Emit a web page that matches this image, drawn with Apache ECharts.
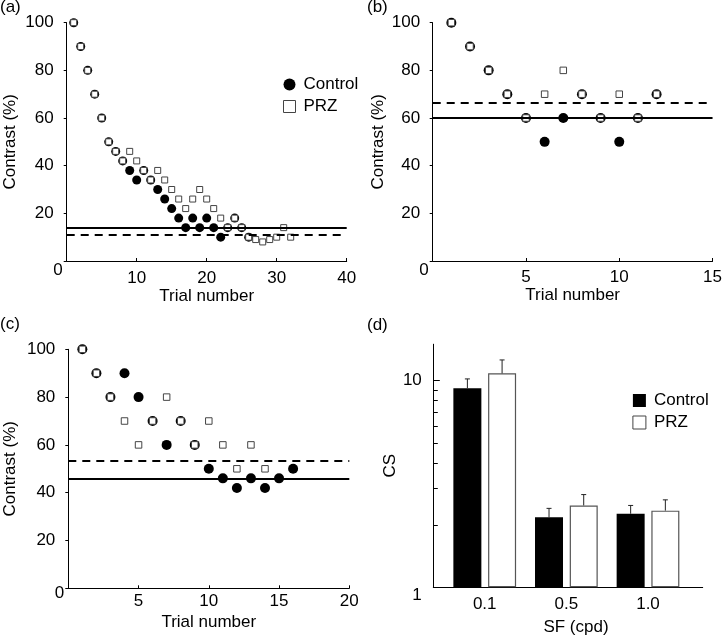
<!DOCTYPE html>
<html><head><meta charset="utf-8">
<script src="https://cdn.jsdelivr.net/npm/echarts@6/dist/echarts.min.js"></script>
<style>html,body{margin:0;padding:0;background:#fff}#c{width:725px;height:639px}</style>
</head><body><div id="c"></div>
<script>
// ---------- Panel (a) ----------
const aControlTrials = [1,2,3,4,5,6,7,8,9,10,11,12,13,14,15,16,17,18,19,20,21,22,23,24,25,26];
const aControlValues = [100,90,80,70,60,50,46,42,38,34,38,34,30,26,22,18,14,18,14,18,14,10,14,18,14,10];
const aPRZTrials = [1,2,3,4,5,6,7,8,9,10,11,12,13,14,15,16,17,18,19,20,21,22,23,24,25,26,27,28,29,30,31,32];
const aPRZValues = [100,90,80,70,60,50,46,42,46,42,38,34,38,34,30,26,22,26,30,26,22,18,14,18,14,10,9,8,9,10,14,10];
const aControlThreshold = 13.9;
const aPRZThreshold = 11.2;
const aXTicks = [10,20,30,40];

// ---------- Panel (b) ----------
const bControlTrials = [1,2,3,4,5,6,7,8,9,10,11,12];
const bControlValues = [100,90,80,70,60,50,60,70,60,50,60,70];
const bPRZTrials = [1,2,3,4,5,6,7,8,9,10,11,12];
const bPRZValues = [100,90,80,70,60,70,80,70,60,70,60,70];
const bControlThreshold = 60;
const bPRZThreshold = 66.6;
const bXTicks = [5,10,15];

// ---------- Panel (c) ----------
const cControlTrials = [1,2,3,4,5,6,7,8,9,10,11,12,13,14,15,16];
const cControlValues = [100,90,80,90,80,70,60,70,60,50,46,42,46,42,46,50];
const cPRZTrials = [1,2,3,4,5,6,7,8,9,10,11,12,13,14];
const cPRZValues = [100,90,80,70,60,70,80,70,60,70,60,50,60,50];
const cControlThreshold = 46;
const cPRZThreshold = 53.4;
const cXTicks = [5,10,15,20];

const yTicks = [20,40,60,80,100];

// ---------- Panel (d) ----------
const dCategories = ['0.1','0.5','1.0'];
const dControlMean = [9.2, 2.18, 2.27];
const dControlErr  = [1.0, 0.23, 0.22];
const dPRZMean = [10.85, 2.49, 2.35];
const dPRZErr  = [1.75, 0.32, 0.30];
const dMajorTicks = [10];
const dMinorTicks = [2,3,4,5,6,7,8,9];

const FONT = 'Liberation Sans, Arial, Helvetica, sans-serif';
const txt = {color:'#000', fontSize:17, fontFamily:FONT};

function pairs(xs, ys){ return xs.map((x,i)=>[x, ys[i]]); }

function trialX(gridIndex, max, ticks, margin){
  return {type:'value', gridIndex, min:0, max, interval: max===40?10:5,
    axisLine:{show:true, onZero:false, lineStyle:{color:'#000', width:1}},
    axisTick:{show:true, inside:true, length:3, lineStyle:{color:'#000'}},
    splitLine:{show:false},
    axisLabel:Object.assign({customValues:ticks, margin}, txt),
    name:'Trial number', nameLocation:'middle', nameGap:26, nameTextStyle:txt};
}
function contrastY(gridIndex, nameGap, margin){
  return {type:'value', gridIndex, min:0, max:100, interval:20, position:'left',
    axisLine:{show:true, onZero:false, lineStyle:{color:'#000', width:1}},
    axisTick:{show:true, length:3, lineStyle:{color:'#000'}},
    splitLine:{show:false},
    axisLabel:Object.assign({customValues:yTicks, margin}, txt),
    name:'Contrast (%)', nameLocation:'middle', nameGap, nameTextStyle:txt};
}
function zeroY(gridIndex, shift){
  return {type:'value', gridIndex, min:0, max:100, interval:20, position:'left',
    axisLine:{show:false, onZero:false}, axisTick:{show:false}, splitLine:{show:false},
    axisLabel:{customValues:[0], margin:4, formatter:(v)=>'{z|' + v + '}',
      rich:{z:Object.assign({padding:[shift,0,0,0]}, txt)}}};
}
function ctrlSeries(xi, yi, trials, vals, size, thr){
  return {type:'scatter', name:'Control', xAxisIndex:xi, yAxisIndex:yi,
    symbol:'circle', symbolSize:size, itemStyle:{color:'#000', opacity:1},
    data:pairs(trials, vals), silent:true,
    markLine:{silent:true, symbol:'none', label:{show:false}, z:5,
      lineStyle:{color:'#000', width:2, type:'solid', opacity:1}, data:[{yAxis:thr}]}};
}
function przSeries(xi, yi, trials, vals, size, thr){
  return {type:'scatter', name:'PRZ', xAxisIndex:xi, yAxisIndex:yi,
    symbol:'rect', symbolSize:size, itemStyle:{color:'#fff', borderColor:'#444', borderWidth:1, opacity:1},
    data:pairs(trials, vals), silent:true,
    markLine:{silent:true, symbol:'none', label:{show:false}, z:5,
      lineStyle:{color:'#000', width:2, type:[8,6], opacity:1}, data:[{yAxis:thr}]}};
}
function errSeries(mean, err, offset){
  return {type:'custom', xAxisIndex:3, yAxisIndex:6, silent:true, z:4,
    encode:{x:0, y:[1,2]},
    data: mean.map((m,i)=>[i, m, m+err[i]]),
    renderItem:(params, api)=>{
      const p0 = api.coord([api.value(0), api.value(1)]);
      const p1 = api.coord([api.value(0), api.value(2)]);
      const cx = p0[0] + offset;
      return {type:'group', children:[
        {type:'line', shape:{x1:cx, y1:p0[1], x2:cx, y2:p1[1]}, style:{stroke:'#222', lineWidth:1}},
        {type:'line', shape:{x1:cx-2.5, y1:p1[1], x2:cx+2.5, y2:p1[1]}, style:{stroke:'#222', lineWidth:1}}
      ]};
    }};
}

const option = {
  animation:false,
  backgroundColor:'#fff',
  title:[
    {text:'(a)', left:0, top:-1, padding:0, textStyle:Object.assign({fontWeight:'normal'}, txt)},
    {text:'(b)', left:367, top:-1, padding:0, textStyle:Object.assign({fontWeight:'normal'}, txt)},
    {text:'(c)', left:0, top:316, padding:0, textStyle:Object.assign({fontWeight:'normal'}, txt)},
    {text:'(d)', left:367, top:317, padding:0, textStyle:Object.assign({fontWeight:'normal'}, txt)}
  ],
  grid:[
    {left:66.7, top:22.7, width:280, height:238.3},
    {left:432.7, top:22.7, width:280.6, height:238.3},
    {left:68.3, top:349.3, width:281, height:239},
    {left:433.3, top:344.3, width:269.4, height:243}
  ],
  legend:[
    {orient:'vertical', left:283, top:76, padding:0, itemWidth:12, itemHeight:12, itemGap:5, selectedMode:false,
     textStyle:Object.assign({padding:[0,0,0,3]}, txt),
     data:[{name:'Control', icon:'circle', itemStyle:{color:'#000', borderWidth:0, opacity:1}},
           {name:'PRZ', icon:'rect', itemStyle:{color:'#fff', borderColor:'#444', borderWidth:1, opacity:1}}]},
    {orient:'vertical', left:632.4, top:392, padding:0, itemWidth:13, itemHeight:13, itemGap:5, selectedMode:false,
     textStyle:Object.assign({padding:[0,0,0,3]}, txt),
     data:[{name:'Control', icon:'rect', itemStyle:{color:'#000', borderWidth:0, opacity:1}},
           {name:'PRZ', icon:'rect', itemStyle:{color:'#fff', borderColor:'#444', borderWidth:1, opacity:1}}]}
  ],
  xAxis:[
    trialX(0, 40, aXTicks, 9),
    trialX(1, 15, bXTicks, 8),
    trialX(2, 20, cXTicks, 5),
    {type:'value', gridIndex:3, min:-0.63, max:2.67,
     axisLine:{show:true, onZero:false, lineStyle:{color:'#000', width:1}},
     axisTick:{show:false}, splitLine:{show:false},
     axisLabel:Object.assign({customValues:[0,1,2], margin:9, formatter:(v)=>dCategories[Math.round(v)]}, txt),
     name:'SF (cpd)', nameLocation:'middle', nameGap:32, nameTextStyle:Object.assign({padding:[0,0,0,16]}, txt)}
  ],
  yAxis:[
    contrastY(0, 48, 13), zeroY(0, 18),
    contrastY(1, 46, 12.5), zeroY(1, 18),
    contrastY(2, 49, 13), zeroY(2, 11),
    {type:'log', gridIndex:3, min:1, max:15, logBase:10, position:'left',
     axisLine:{show:true, onZero:false, lineStyle:{color:'#000', width:1}},
     axisTick:{show:true, inside:true, length:4.5, customValues:dMinorTicks, lineStyle:{color:'#000', width:1}},
     splitLine:{show:false},
     axisLabel:Object.assign({customValues:dMajorTicks, margin:11.5}, txt),
     name:'CS', nameLocation:'middle', nameGap:31, nameTextStyle:txt},
    {type:'log', gridIndex:3, min:1, max:15, logBase:10, position:'left',
     axisLine:{show:true, onZero:false, lineStyle:{color:'#000', width:1}},
     axisTick:{show:true, inside:true, length:6.5, customValues:dMajorTicks, lineStyle:{color:'#000', width:1}},
     splitLine:{show:false},
     axisLabel:{customValues:[1], margin:11.5, formatter:(v)=>'{z|' + v + '}',
       rich:{z:Object.assign({padding:[17,0,0,0]}, txt)}}}
  ],
  series:[
    ctrlSeries(0, 0, aControlTrials, aControlValues, 9, aControlThreshold),
    przSeries(0, 0, aPRZTrials, aPRZValues, 6, aPRZThreshold),
    ctrlSeries(1, 2, bControlTrials, bControlValues, 10, bControlThreshold),
    przSeries(1, 2, bPRZTrials, bPRZValues, 6.5, bPRZThreshold),
    ctrlSeries(2, 4, cControlTrials, cControlValues, 10, cControlThreshold),
    przSeries(2, 4, cPRZTrials, cPRZValues, 6.5, cPRZThreshold),
    {type:'bar', name:'Control', xAxisIndex:3, yAxisIndex:6, barWidth:28, barGap:'24%', silent:true,
     itemStyle:{color:'#000'}, data:dControlMean.map((m,i)=>[i,m])},
    {type:'bar', name:'PRZ', xAxisIndex:3, yAxisIndex:6, barWidth:28, barGap:'24%', silent:true,
     itemStyle:{color:'#fff', borderColor:'#555', borderWidth:1.2}, data:dPRZMean.map((m,i)=>[i,m])},
    errSeries(dControlMean, dControlErr, -17.35),
    errSeries(dPRZMean, dPRZErr, 17.35)
  ]
};
const chart = echarts.init(document.getElementById('c'), null, {renderer:'canvas'});
chart.setOption(option);
</script></body></html>
